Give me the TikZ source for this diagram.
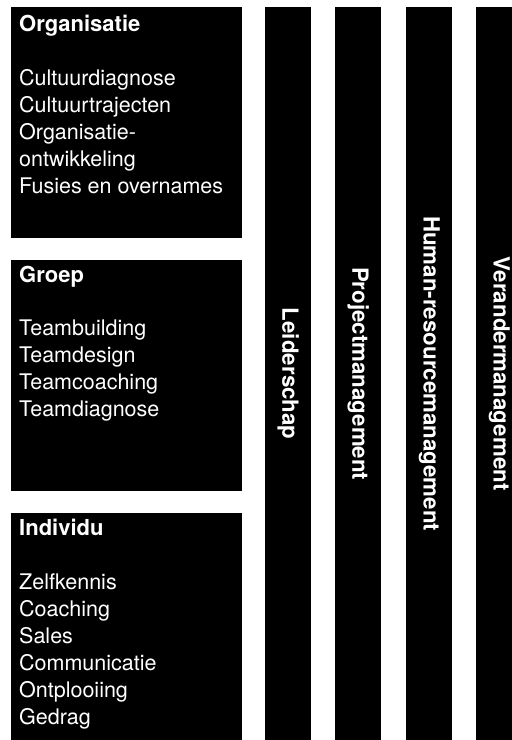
\documentclass[tikz,border=0pt]{standalone}
\usepackage{fontspec}
\setmainfont{TeX Gyre Heros}
\usepackage{xcolor}
\usepackage{tikz}

\tikzset{
	blok/.style={fill=black, inner sep=0pt, minimum width=231pt, anchor=north west},
	balk/.style={fill=black, inner sep=0pt, minimum width=46pt, minimum height=733pt, anchor=north west},
	kop/.style={text=white, anchor=base west, inner sep=0pt, font=\fontsize{22}{27}\selectfont\bfseries},
	lijst/.style={text=white, anchor=north west, inner sep=0pt, align=left, font=\fontsize{21.5}{27}\selectfont},
	balktekst/.style={text=white, rotate=-90, inner sep=0pt, font=\fontsize{22.3}{27}\selectfont\bfseries},
}

\begin{document}
\begin{tikzpicture}[x=1pt, y=-1pt]
	\useasboundingbox (0, 0) rectangle (512, 740);
	% de drie blokken links
	\node[blok, minimum height=231pt] at (11, 7) (org) {};
	\node[blok, minimum height=231pt] at (11, 260) (groep) {};
	\node[blok, minimum height=227pt] at (11, 513) (indiv) {};

	\node[kop] at ([xshift=8pt, yshift=-24pt]org.north west) (orgkop) {Organisatie};
	\node[lijst] at ([xshift=8pt, yshift=-62pt]org.north west) (orglijst)
		{Cultuurdiagnose\\Cultuurtrajecten\\Organisatie-\\ontwikkeling\\Fusies en overnames};

	\node[kop] at ([xshift=8pt, yshift=-22pt]groep.north west) (groepkop) {Groep};
	\node[lijst] at ([xshift=8pt, yshift=-60pt]groep.north west) (groeplijst)
		{Teambuilding\\Teamdesign\\Teamcoaching\\Teamdiagnose};

	\node[kop] at ([xshift=8pt, yshift=-22pt]indiv.north west) (indivkop) {Individu};
	\node[lijst] at ([xshift=8pt, yshift=-61pt]indiv.north west) (indivlijst)
		{Zelfkennis\\Coaching\\Sales\\Communicatie\\Ontplooiing\\Gedrag};

	% de vier staande balken
	\node[balk] at (265, 7) (leider) {};
	\node[balk] at (335, 7) (project) {};
	\node[balk] at (406, 7) (hrm) {};
	\node[balk] at (476, 7) (verander) {};

	\node[balktekst] at (leider.center) (leidertekst) {Leiderschap};
	\node[balktekst] at (project.center) (projecttekst) {Projectmanagement};
	\node[balktekst] at (hrm.center) (hrmtekst) {Human-resourcemanagement};
	\node[balktekst] at (verander.center) (verandertekst) {Verandermanagement};
\end{tikzpicture}
\end{document}
